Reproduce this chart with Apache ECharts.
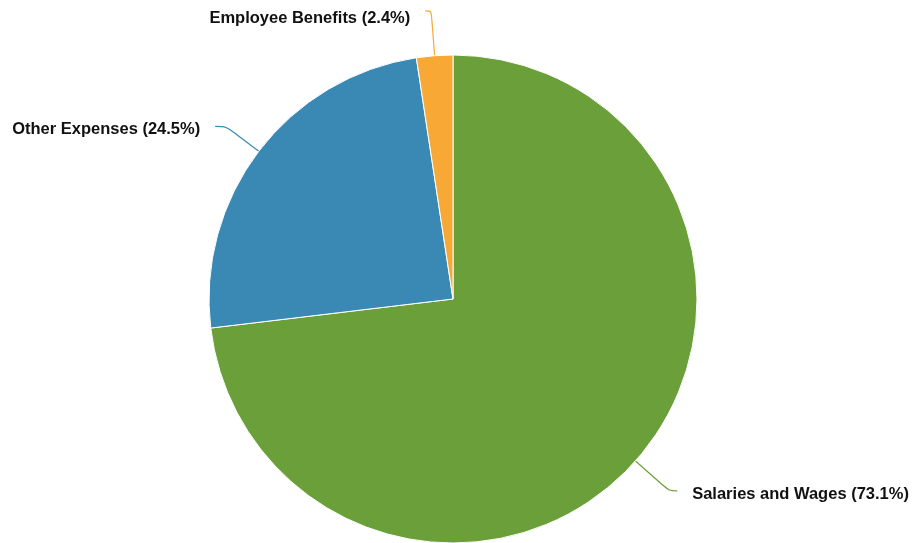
<!DOCTYPE html>
<html>
<head>
<meta charset="utf-8">
<script src="https://cdn.jsdelivr.net/npm/echarts@6/dist/echarts.min.js"></script>
<style>html,body{margin:0;padding:0;background:#fff;}#c{width:913px;height:543px;}</style>
</head>
<body>
<div id="c"></div>
<script>
const categories = ["Salaries and Wages", "Other Expenses", "Employee Benefits"];
const values = [73.1, 24.5, 2.4];
const colors = ["#6a9f3a", "#3a89b5", "#f8a935"];
const lineLen = [45, 41, 45];
const lineLen2 = [8, 11, 6];
const labelShiftY = [4, 3, 8];

const chart = echarts.init(document.getElementById('c'), null, {renderer: 'canvas'});
chart.setOption({
  animation: false,
  series: [{
    type: 'pie',
    center: [453, 299],
    radius: 244,
    startAngle: 90,
    clockwise: true,
    avoidLabelOverlap: true,
    itemStyle: {borderColor: '#fff', borderWidth: 1},
    label: {
      formatter: p => p.name + ' (' + p.value.toFixed(1) + '%)',
      fontFamily: 'Liberation Sans, Arial, sans-serif',
      fontWeight: 'bold',
      fontSize: 16.5,
      color: '#111',
      overflow: 'none',
      edgeDistance: 0,
      distanceToLabelLine: 15
    },
    labelLayout: p => ({dy: labelShiftY[p.dataIndex]}),
    labelLine: {smooth: true, lineStyle: {width: 1.2}},
    data: categories.map((c, i) => ({
      name: c, value: values[i],
      itemStyle: {color: colors[i]},
      labelLine: {length: lineLen[i], length2: lineLen2[i]}
    }))
  }]
});
</script>
</body>
</html>
